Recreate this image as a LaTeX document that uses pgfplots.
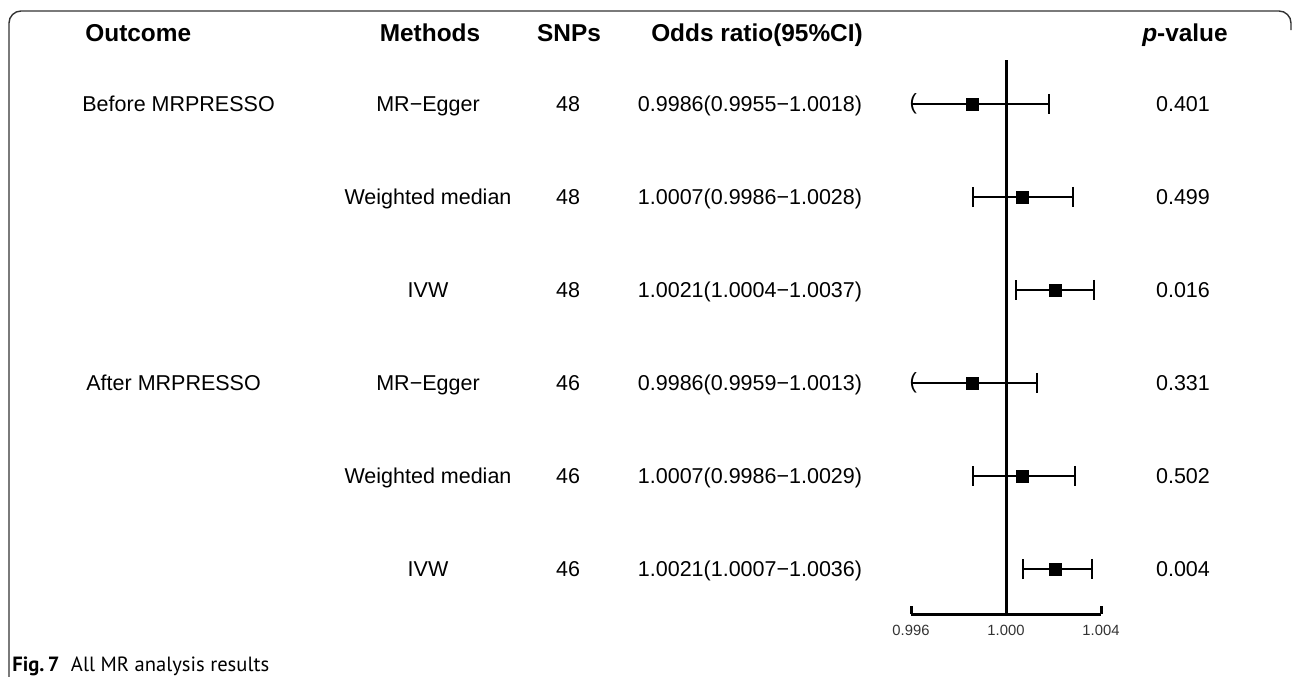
\documentclass[border=0pt]{standalone}
\usepackage{fontspec}
\setmainfont{Liberation Sans}
\newfontfamily\capfont{PT Sans}
\usepackage{pgfplots}
\pgfplotsset{compat=1.18}
\usepackage{pgfplotstable}

\pgfplotstableread{
y or lo hi
6 0.9986 0.9955 1.0018
5 1.0007 0.9986 1.0028
4 1.0021 1.0004 1.0037
3 0.9986 0.9959 1.0013
2 1.0007 0.9986 1.0029
1 1.0021 1.0007 1.0036
}\mrdata

\newcommand{\bodyfont}{\fontsize{10.75}{13}\selectfont}
\newcommand{\headfont}{\fontsize{12.2}{14}\selectfont\bfseries}

\begin{document}
\begin{tikzpicture}[x=0.5pt,y=-0.5pt]
\useasboundingbox (0,0) rectangle (1292,676);
% frame
\draw[black!80, line width=0.7pt, rounded corners=6pt] (9,677) -- (9,11) -- (1291,11) -- (1291,30);
% headers
\node[anchor=base west, font=\headfont, inner sep=0pt] at (85,41) {Outcome};
\node[anchor=base, font=\headfont, inner sep=0pt] at (430,41) {Methods};
\node[anchor=base, font=\headfont, inner sep=0pt] at (569,41) {SNPs};
\node[anchor=base, font=\headfont, inner sep=0pt] at (757,41) {Odds ratio(95\%CI)};
\node[anchor=base, font=\headfont, inner sep=0pt] at (1185,41) {\textit{p}-value};
% outcome
\node[anchor=base west, font=\bodyfont, inner sep=0pt] at (82,111.5) {Before MRPRESSO};
\node[anchor=base west, font=\bodyfont, inner sep=0pt] at (86,390.5) {After MRPRESSO};
% rows
\foreach \yy/\m/\n/\o/\p in {
  104/MR−Egger/48/0.9986(0.9955−1.0018)/0.401,
  197/Weighted median/48/1.0007(0.9986−1.0028)/0.499,
  290/IVW/48/1.0021(1.0004−1.0037)/0.016,
  383/MR−Egger/46/0.9986(0.9959−1.0013)/0.331,
  476/Weighted median/46/1.0007(0.9986−1.0029)/0.502,
  569/IVW/46/1.0021(1.0007−1.0036)/0.004}{
  \node[anchor=base, font=\bodyfont, inner sep=0pt] at (428,\yy+7.5) {\m};
  \node[anchor=base, font=\bodyfont, inner sep=0pt] at (568,\yy+7.5) {\n};
  \node[anchor=base, font=\bodyfont, inner sep=0pt] at (750,\yy+7.5) {\o};
  \node[anchor=base, font=\bodyfont, inner sep=0pt] at (1183,\yy+7.5) {\p};
}
% caption
\node[anchor=base west, font=\capfont\fontsize{10.3}{12}\selectfont, inner sep=0pt] at (12,671) {\textbf{Fig.\,7}\hspace{0.55em}All MR analysis results};

\begin{axis}[
  at={(455.5pt,-307pt)}, anchor=south west,
  scale only axis, width=95pt, height=277pt,
  xmin=0.996, xmax=1.004, ymin=0.516, ymax=6.473,
  axis x line=bottom, axis y line=none,
  axis line style={-, line width=1.5pt, black},
  xtick={0.996,1,1.004}, xticklabels={0.996,1.000,1.004},
  tick align=inside, major tick length=4pt,
  tick style={line width=1.5pt, black},
  xticklabel style={font=\fontsize{7.4}{8}\selectfont, text=black!80, yshift=-2pt},
  /pgf/number format/assume math mode=true,
  clip=false,
]
% upper CI with cap
\addplot[black, line width=1pt, draw=none, mark=none,
  error bars/.cd, x dir=plus, x explicit,
  error bar style={line width=1pt, black},
  error mark options={rotate=90, mark size=5pt, line width=1pt, black}]
  table[x=or, y=y, x error plus expr=\thisrow{hi}-\thisrow{or}] {\mrdata};
% lower CI with cap (within axis range)
\addplot[black, draw=none, mark=none,
  restrict expr to domain={\thisrow{lo}}{0.99595:2},
  error bars/.cd, x dir=minus, x explicit,
  error bar style={line width=1pt, black},
  error mark options={rotate=90, mark size=5pt, line width=1pt, black}]
  table[x=or, y=y, x error minus expr=\thisrow{or}-\thisrow{lo}] {\mrdata};
% lower CI clipped at axis limit
\addplot[black, draw=none, mark=none,
  restrict expr to domain={\thisrow{lo}}{0:0.99595},
  error bars/.cd, x dir=minus, x explicit,
  error bar style={line width=1pt, black},
  error mark=none]
  table[x=or, y=y, x error minus expr=\thisrow{or}-0.996] {\mrdata};
\addplot[only marks, mark=text, text mark={\fontsize{11}{12}\selectfont(}]
  coordinates {(0.9961,6) (0.9961,3)};
% null line
\draw[line width=1.5pt, black] (axis cs:1,0.516) -- (axis cs:1,6.473);
% point estimates
\addplot[only marks, mark=square*, mark size=3pt, black] table[x=or, y=y] {\mrdata};
\end{axis}
\end{tikzpicture}
\end{document}
